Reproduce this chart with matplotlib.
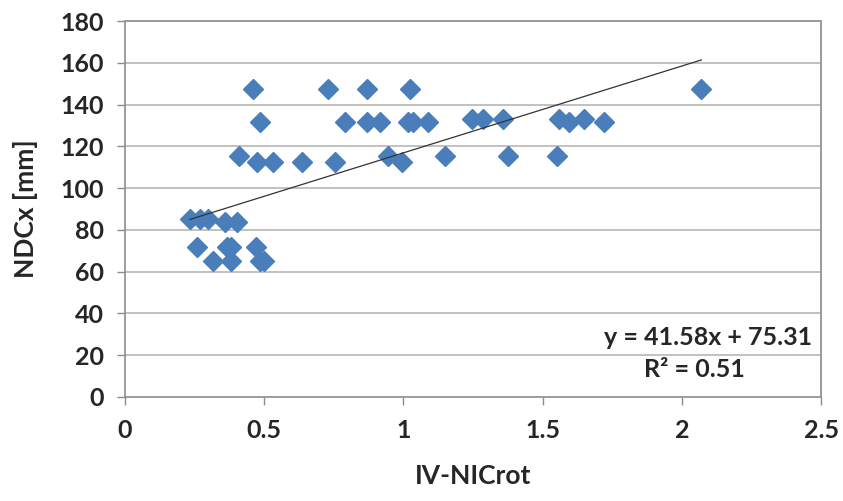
import matplotlib
matplotlib.use("Agg")
import matplotlib.pyplot as plt
import numpy as np

plt.rcParams['font.family'] = ['Lato', 'DejaVu Sans']

# IV-NICrot values and matching NDCx measurements [mm]
iv_nicrot = [
    0.459, 0.728, 0.868, 1.022, 2.07,
    0.484, 0.789, 0.868, 0.915, 1.015, 1.033, 1.087, 1.245, 1.284, 1.356,
    1.56, 1.596, 1.65, 1.72,
    0.41, 0.475, 0.53, 0.637, 0.755, 0.943, 0.994, 1.148, 1.377, 1.55,
    0.233, 0.269, 0.298, 0.359, 0.402,
    0.258, 0.366, 0.38, 0.47,
    0.316, 0.38, 0.484, 0.50,
]
ndcx = [
    147.5, 147.5, 147.5, 147.5, 147.5,
    131.5, 131.5, 131.5, 131.5, 131.5, 131.5, 131.5, 133, 133, 133,
    133, 131.5, 133, 131.5,
    115.5, 112.5, 112.5, 112.5, 112.5, 115.5, 112.5, 115.5, 115.5, 115.5,
    85, 85, 85, 84, 84,
    72, 72, 72, 72,
    65, 65, 65, 65,
]

# linear trend line coefficients
slope = 41.58
intercept = 75.31
r_squared = 0.51

x_ticks = [0, 0.5, 1, 1.5, 2, 2.5]
x_tick_labels = ["0", "0.5", "1", "1.5", "2", "2.5"]
y_ticks = list(range(0, 181, 20))

fig = plt.figure(figsize=(8.43, 5.01), dpi=100)
ax = fig.add_axes([0.1483, 0.2076, 0.8257, 0.7504])

ax.set_xlim(0, 2.5)
ax.set_ylim(0, 180)

for yv in y_ticks[1:]:
    ax.axhline(yv, color="#bcbcbc", lw=1.3, zorder=0)

ax.plot(iv_nicrot, ndcx, linestyle="none", marker="D", markersize=10.5,
        color="#4a7ebb", markeredgecolor="#4a7ebb", zorder=3)

xs = np.array([min(iv_nicrot), max(iv_nicrot)])
ax.plot(xs, slope * xs + intercept, color="#333333", lw=0.9, zorder=4)

ax.set_xticks(x_ticks)
ax.set_xticklabels(x_tick_labels)
ax.set_yticks(y_ticks)

for side in ["left", "bottom"]:
    ax.spines[side].set_color("#8c8c8c")
    ax.spines[side].set_linewidth(1.2)
for side in ["top", "right"]:
    ax.spines[side].set_color("#9a9a9a")
    ax.spines[side].set_linewidth(1.4)

ax.tick_params(axis="both", direction="out", length=6, width=1, color="#8c8c8c",
               labelsize=18, labelcolor="#262626")
ax.tick_params(axis="y", pad=9)
ax.tick_params(axis="x", pad=10)
for lbl in ax.get_xticklabels() + ax.get_yticklabels():
    lbl.set_fontweight("bold")

ax.set_xlabel("IV-NICrot", fontsize=19, fontweight="bold", color="#262626", labelpad=16)
ax.set_ylabel("NDCx [mm]", fontsize=19, fontweight="bold", color="#262626", labelpad=16)

ax.text(0.838, 0.158, f"y = {slope:.2f}x + {intercept:.2f}", transform=ax.transAxes,
        ha="center", va="center", fontsize=18, fontweight="bold", color="#262626")
ax.text(0.818, 0.072, f"R² = {r_squared:.2f}", transform=ax.transAxes,
        ha="center", va="center", fontsize=18, fontweight="bold", color="#262626")

fig.savefig("out.png", dpi=100)
